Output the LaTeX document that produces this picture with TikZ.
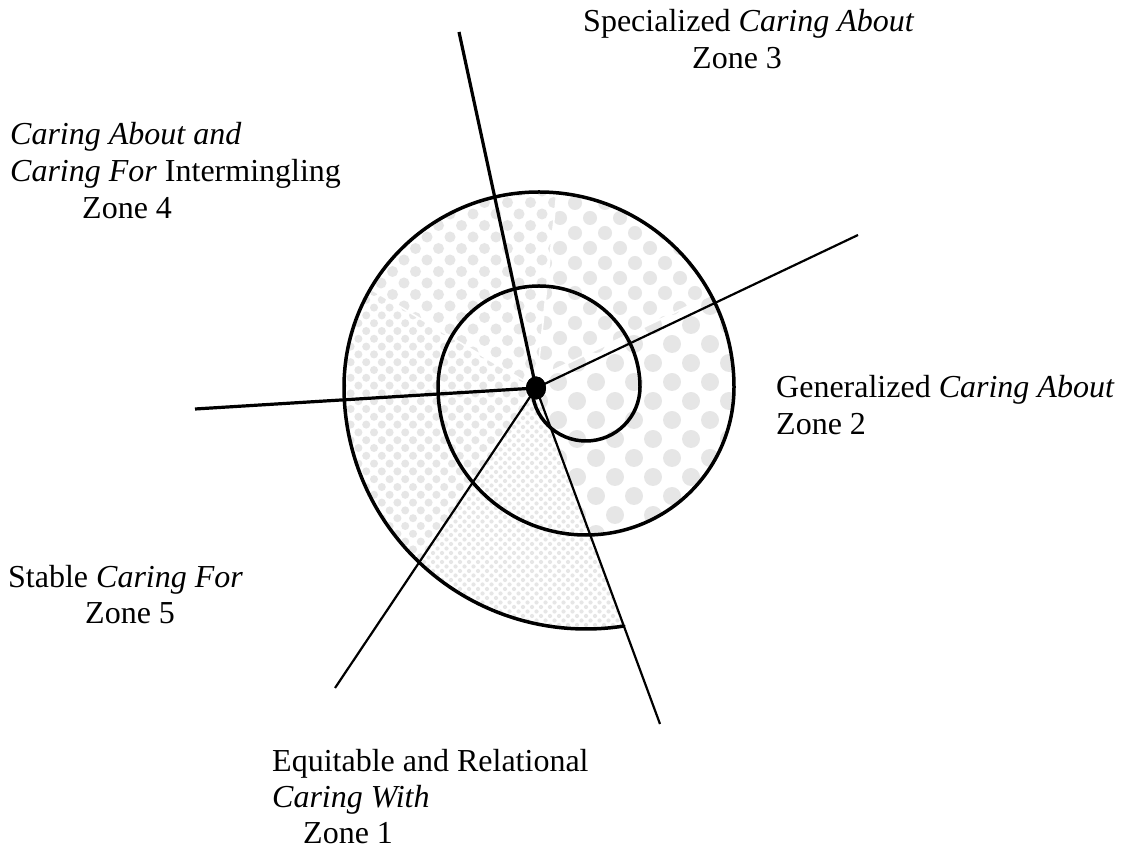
\documentclass[tikz,border=0pt]{standalone}
\usepackage{fontspec}
\setmainfont{Liberation Serif}
\usetikzlibrary{calc,shapes.geometric}

\definecolor{dotgray}{HTML}{E6E6E6}

\tikzset{
  spiralline/.style={line width=3.5pt, line cap=round},
  thickray/.style={line width=3.2pt},
  thinray/.style={line width=2.2pt},
  seamline/.style={white, line width=1.6pt},
  hubdot/.style={ellipse, fill=black, inner sep=0pt, minimum width=20pt, minimum height=23pt},
  zonelabel/.style={anchor=base west, inner sep=0pt, font=\fontsize{32}{36.7}\selectfont},
}

% staggered dot lattice: spacing #1, dot radius #2, x range #3..#4, y range #5..#6
\newcommand{\dotlattice}[6]{%
  \pgfmathsetmacro{\dlstep}{2*#1}%
  \pgfmathsetmacro{\dlxb}{#3+\dlstep}%
  \pgfmathsetmacro{\dlyb}{#5+\dlstep}%
  \pgfmathsetmacro{\dlxo}{#3+#1}%
  \pgfmathsetmacro{\dlyo}{#5+#1}%
  \pgfmathsetmacro{\dlxob}{#3+#1+\dlstep}%
  \pgfmathsetmacro{\dlyob}{#5+#1+\dlstep}%
  \fill[dotgray]
    \foreach \px in {#3,\dlxb,...,#4} {\foreach \py in {#5,\dlyb,...,#6} {(\px,\py) circle (#2)}}
    \foreach \px in {\dlxo,\dlxob,...,#4} {\foreach \py in {\dlyo,\dlyob,...,#6} {(\px,\py) circle (#2)}};
}

% region enclosed by the outer turn of the spiral
\newcommand{\spiralregion}{%
  (734,461) arc[start angle=0, end angle=180, radius=195]
  arc[start angle=180, end angle=279, radius=242]
  -- (590.2,313.1) arc[start angle=271.6, end angle=360, radius=148] -- cycle}

\begin{document}
\begin{tikzpicture}[x=1pt, y=1pt]
\useasboundingbox (0,0) rectangle (1123,848);

\coordinate (O) at (536,460);
\coordinate (S) at (541,472);

% ---- dotted fills of the zones ----
\begin{scope}
  \clip \spiralregion;
  % zone 2: large dots
  \dotlattice{19}{9}{330}{760}{200}{680}
  % zone 3
  \begin{scope}
    \clip (O) -- (S) -- ([shift={(25.4:450)}]S) -- ([shift={(60:450)}]O) -- ([shift={(83.9:450)}]O) -- cycle;
    \fill[white] (300,150) rectangle (800,700);
    \dotlattice{15}{7}{530}{760}{450}{680}
  \end{scope}
  % zone 4
  \begin{scope}
    \clip (O) -- ([shift={(83.9:450)}]O) -- ([shift={(116:450)}]O) -- ([shift={(149.1:450)}]O) -- cycle;
    \fill[white] (300,150) rectangle (800,700);
    \dotlattice{11.5}{5.5}{335}{600}{450}{680}
  \end{scope}
  % zone 5
  \begin{scope}
    \clip (O) -- ([shift={(149.1:450)}]O) -- ([shift={(190:450)}]O) -- ([shift={(236.18:450)}]O) -- cycle;
    \fill[white] (300,150) rectangle (800,700);
    \dotlattice{7.8}{4}{335}{545}{205}{570}
  \end{scope}
  % zone 1: fine checker
  \begin{scope}
    \clip (O) -- ([shift={(236.18:450)}]O) -- ([shift={(263:450)}]O) -- ([shift={(290.25:450)}]O) -- cycle;
    \fill[white] (300,150) rectangle (800,700);
    \dotlattice{4.5}{2.1}{370}{650}{205}{470}
  \end{scope}
  % seams between the fills
  \draw[seamline] (O) -- ([shift={(83.9:260)}]O);
  \draw[seamline] (O) -- ([shift={(149.1:260)}]O);
  \draw[seamline] (S) -- ([shift={(25.4:260)}]S);
\end{scope}

% ---- ray end points ----
\coordinate (upEnd) at (459,816);
\coordinate (rightEnd) at (858,613);
\coordinate (leftEnd) at (195,439);
\coordinate (lowLeftEnd) at (335,160);
\coordinate (lowRightEnd) at (660,124);

% ---- spiral ----
\draw[spiralline] (532,461) arc[start angle=180, end angle=360, radius=54]
  arc[start angle=0, end angle=180, radius=101]
  arc[start angle=180, end angle=360, radius=148]
  arc[start angle=0, end angle=180, radius=195]
  arc[start angle=180, end angle=279, radius=242];

% ---- hub and rays ----
\node[hubdot] (hub) at (O) {};
\draw[thickray] (hub.center) -- (upEnd);
\draw[thickray] (hub.center) -- (leftEnd);
\draw[thinray] (hub.center) -- (rightEnd);
\draw[thinray] (hub.center) -- (lowLeftEnd);
\draw[thinray] (hub.center) -- (lowRightEnd);
\node[hubdot] at (O) {};

% ---- labels ----
\node[zonelabel] (z3a) at (583,816) {Specialized \textit{Caring About}};
\node[zonelabel] (z3b) at (692,779) {Zone 3};
\node[zonelabel] (z4a) at (10,703) {\textit{Caring About and}};
\node[zonelabel] (z4b) at (10,666) {\textit{Caring For} Intermingling};
\node[zonelabel] (z4c) at (82,629) {Zone 4};
\node[zonelabel] (z2a) at (776,450) {Generalized \textit{Caring About}};
\node[zonelabel] (z2b) at (776,413) {Zone 2};
\node[zonelabel] (z5a) at (8,260) {Stable \textit{Caring For}};
\node[zonelabel] (z5b) at (85,224) {Zone 5};
\node[zonelabel] (z1a) at (272,77) {Equitable and Relational};
\node[zonelabel] (z1b) at (272,41) {\textit{Caring With}};
\node[zonelabel] (z1c) at (303,5) {Zone 1};
\end{tikzpicture}
\end{document}
